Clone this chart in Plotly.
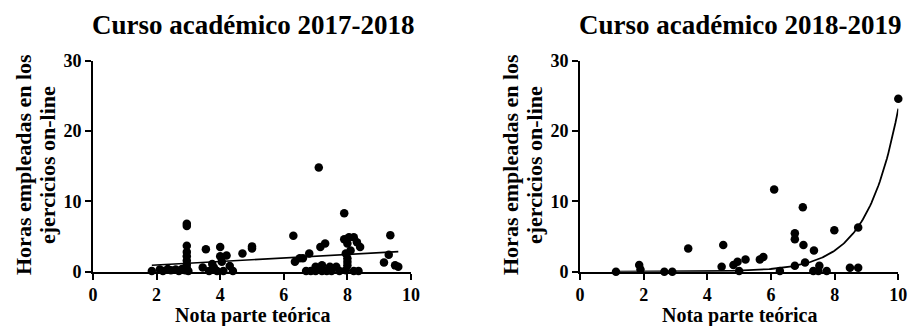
import numpy as np
import plotly.graph_objects as go

W, H = 910, 326

# ---- data: Curso académico 2017-2018 ----
x1 = [1.85, 2.1, 2.2, 2.35, 2.45, 2.6, 2.7, 2.8, 2.9,
      2.95, 2.95, 2.95, 2.95, 2.95, 2.95, 2.95, 2.95, 3.0,
      3.45, 3.55, 3.65, 3.75, 3.8, 3.9, 4.0, 4.0, 4.05, 4.1, 4.2, 4.3, 4.4, 4.7, 5.0, 5.0,
      6.3, 6.35, 6.5, 6.6, 6.7, 6.8, 6.85, 7.0, 7.0, 7.1, 7.15, 7.2, 7.2, 7.3, 7.35, 7.45, 7.5, 7.65, 7.75,
      7.9, 7.9, 7.95, 7.95, 8.0, 8.0, 8.0, 8.0, 8.05, 8.1, 8.2, 8.2, 8.3, 8.35, 8.4,
      9.15, 9.3, 9.35, 9.5, 9.6]
y1 = [0.1, 0.3, 0.1, 0.4, 0.2, 0.3, 0.1, 0.4, 0.2,
      6.8, 6.5, 3.7, 2.8, 2.2, 1.6, 1.0, 0.5, 0.1,
      0.6, 3.2, 0.1, 1.1, 0.6, 0.1, 3.5, 2.2, 1.4, 0.1, 2.3, 0.8, 0.1, 2.6, 3.3, 3.6,
      5.1, 1.4, 1.9, 1.9, 0.1, 2.6, 0.1, 0.7, 0.1, 14.8, 3.5, 0.9, 0.1, 4.0, 0.1, 0.7, 0.1, 0.7, 0.1,
      8.3, 4.6, 2.6, 0.2, 4.0, 1.9, 1.4, 0.9, 4.9, 3.0, 4.9, 0.1, 4.2, 0.1, 3.5,
      1.3, 2.4, 5.2, 0.9, 0.7]
lin_intercept = 0.45
lin_slope = 0.25

# ---- data: Curso académico 2018-2019 ----
x2 = [1.13, 1.86, 1.9, 2.65, 2.9, 3.4, 4.45, 4.5, 4.82, 4.95, 5.0, 5.2, 5.65, 5.76,
      6.1, 6.28, 6.75, 6.75, 6.75, 7.0, 7.02, 7.07, 7.35, 7.33, 7.52, 7.49, 7.75,
      7.99, 8.48, 8.74, 8.74, 10.0]
y2 = [0.0, 0.95, 0.3, 0.0, 0.0, 3.3, 0.7, 3.8, 0.95, 1.4, 0.1, 1.75, 1.75, 2.1,
      11.7, 0.1, 5.45, 4.6, 0.85, 9.15, 3.8, 1.3, 3.0, 0.1, 0.85, 0.1, 0.1,
      5.9, 0.55, 0.55, 6.3, 24.6]
exp_A = 8.45e-4
exp_k = 1.022

titles = ["Curso académico 2017-2018", "Curso académico 2018-2019"]
ytitle_lines = ["Horas empleadas en los", "ejercicios on-line"]
xtitle = "Nota parte teórica"
xticks = [0, 2, 4, 6, 8, 10]
yticks = [0, 10, 20, 30]

FONT = "Liberation Serif"

# pixel layout
x0_px = [93, 580]
x10_px = [411, 898.3]
ytop_px, ybot_px = 60.7, 271.7

fig = go.Figure()

xl = np.linspace(min(x1), max(x1), 2)
xe = np.linspace(min(x2), 10.0, 200)

fig.add_trace(go.Scatter(x=x1, y=y1, mode="markers", xaxis="x", yaxis="y",
                         marker=dict(color="black", size=8.5), cliponaxis=False, showlegend=False))
fig.add_trace(go.Scatter(x=xl, y=lin_intercept + lin_slope * xl, mode="lines", xaxis="x", yaxis="y",
                         line=dict(color="black", width=1.6), cliponaxis=False, showlegend=False))
fig.add_trace(go.Scatter(x=x2, y=y2, mode="markers", xaxis="x2", yaxis="y2",
                         marker=dict(color="black", size=8.5), cliponaxis=False, showlegend=False))
fig.add_trace(go.Scatter(x=xe, y=exp_A * np.exp(exp_k * xe), mode="lines", xaxis="x2", yaxis="y2",
                         line=dict(color="black", width=1.8), cliponaxis=False, showlegend=False))

ydom = [(H - ybot_px) / H, (H - ytop_px) / H]
axis_common = dict(showgrid=False, zeroline=False, showline=True, linecolor="black", linewidth=2,
                   ticks="outside", ticklen=6, tickwidth=2, tickcolor="black", automargin=False,
                   tickfont=dict(family=FONT, size=18, color="black", weight="bold"))

layout = dict(width=W, height=H, margin=dict(l=0, r=0, t=0, b=0),
              plot_bgcolor="white", paper_bgcolor="white", showlegend=False)
annotations = []
for i in range(2):
    sx = "" if i == 0 else "2"
    dom = [x0_px[i] / W, x10_px[i] / W]
    layout["xaxis" + sx] = dict(domain=dom, range=[0, 10], tickvals=xticks, anchor="y" + sx,
                                fixedrange=True, **axis_common)
    layout["yaxis" + sx] = dict(domain=ydom, range=[0, 30], tickvals=yticks, anchor="x" + sx,
                                fixedrange=True, **axis_common)
    cx = (x0_px[i] + x10_px[i]) / 2
    annotations.append(dict(text=titles[i], x=(cx + 1) / W, y=(H - 25) / H, xref="paper", yref="paper",
                            xanchor="center", yanchor="middle", showarrow=False,
                            font=dict(family=FONT, size=27, color="black", weight="bold")))
    annotations.append(dict(text=xtitle, x=(cx + 1) / W, y=(H - 315) / H, xref="paper", yref="paper",
                            xanchor="center", yanchor="middle", showarrow=False,
                            font=dict(family=FONT, size=20, color="black", weight="bold")))
    for j, off in enumerate([-70, -46]):
        annotations.append(dict(text=ytitle_lines[j], x=(x0_px[i] + off) / W,
                                y=(H - 165) / H, xref="paper", yref="paper",
                                xanchor="center", yanchor="middle", showarrow=False, textangle=-90,
                                font=dict(family=FONT, size=22, color="black", weight="bold")))
layout["annotations"] = annotations
fig.update_layout(**layout)
fig.write_html("out.html", config={"displayModeBar": False},
               post_script="document.body.style.margin='0';document.body.style.overflow='hidden';")
